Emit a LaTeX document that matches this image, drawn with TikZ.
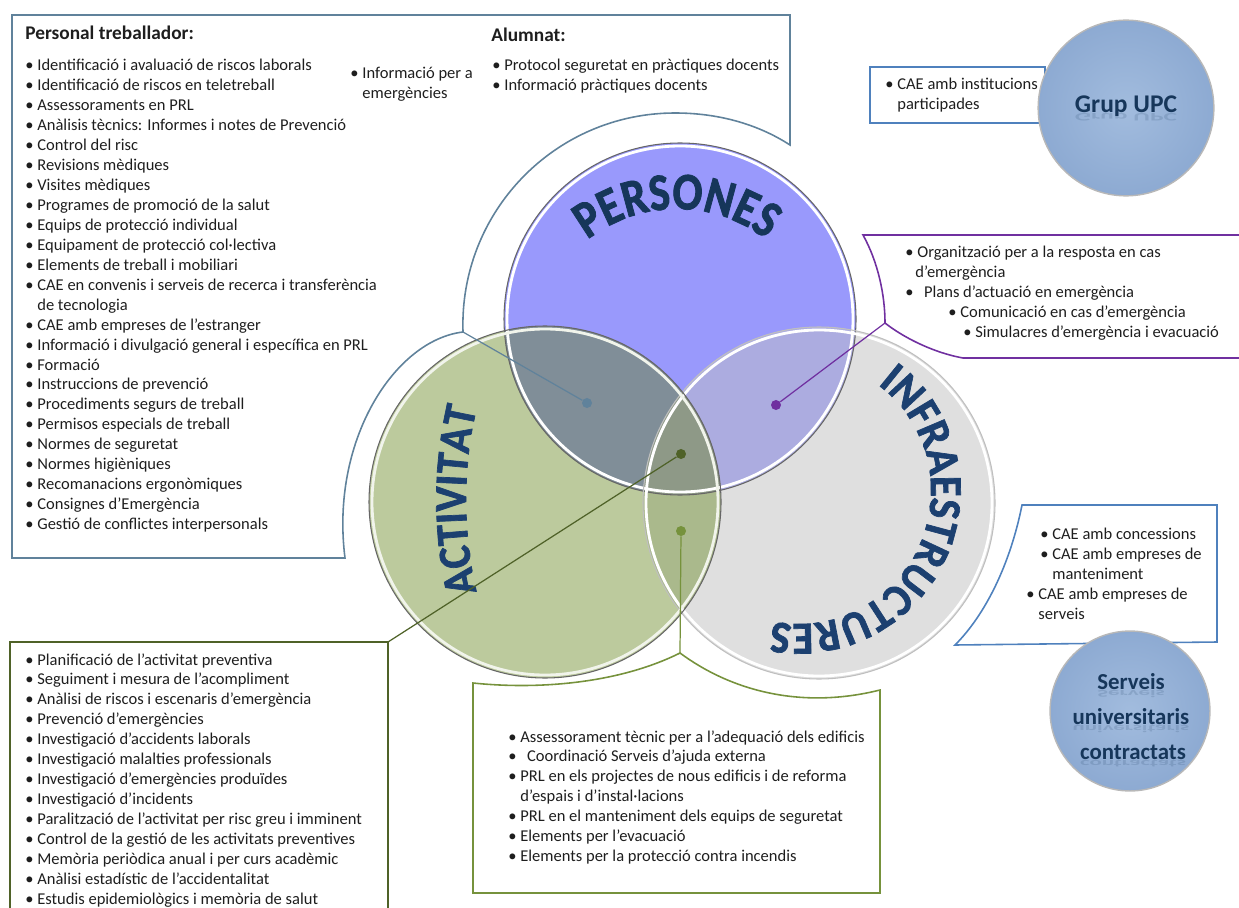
\documentclass[tikz,border=0pt]{standalone}
\usepackage{fontspec}
\setmainfont{Carlito}
\newfontfamily\narrowfam{Carlito}[FakeStretch=0.84, FakeBold=1.5]
\newfontfamily\semifam{Carlito}[FakeStretch=0.93, FakeBold=1.5]
\usetikzlibrary{decorations.text}

\definecolor{textc}{RGB}{30,30,30}
\definecolor{labelc}{RGB}{22,54,90}
\definecolor{labeld}{RGB}{28,64,112}
\definecolor{persc}{RGB}{153,153,252}
\definecolor{infrac}{RGB}{223,223,223}
\definecolor{actc}{RGB}{188,202,157}
\definecolor{paC}{RGB}{128,142,152}
\definecolor{piC}{RGB}{172,172,224}
\definecolor{aiC}{RGB}{170,185,140}
\definecolor{paiC}{RGB}{142,153,135}
\definecolor{slatec}{RGB}{96,130,155}
\definecolor{purplec}{RGB}{112,48,160}
\definecolor{bluec}{RGB}{79,129,189}
\definecolor{dgreenc}{RGB}{79,98,40}
\definecolor{olivec}{RGB}{118,146,60}
\definecolor{bubblein}{RGB}{162,188,222}
\definecolor{bubbleout}{RGB}{141,170,210}

\newlength{\pxu}\setlength{\pxu}{0.569055pt}
\newcommand{\bul}[1][12]{\makebox[#1\pxu][l]{\textbullet}}
\newcommand{\ind}{\hspace*{12\pxu}}
\newcommand{\persfont}{\fontsize{30}{30}\narrowfam\bfseries\color{labelc}}
\newcommand{\labelfont}{\fontsize{26}{26}\semifam\bfseries\color{labeld}}

\tikzstyle{listbox} = [anchor=north west, align=left, inner sep=0pt, font=\fontsize{9.4}{11.35}\selectfont, text=textc]
\tikzstyle{heading} = [anchor=west, inner sep=0pt, font=\fontsize{11}{13}\selectfont\bfseries, text=textc]
\tikzstyle{callout} = [line width=0.9pt]
\tikzstyle{link} = [line width=0.7pt]
\tikzstyle{dot} = [circle, inner sep=0pt, minimum size=5.7pt]
\tikzstyle{ring} = [line width=0.6pt]
\tikzstyle{bubble} = [circle, inner sep=0pt, draw=black!28, line width=0.8pt, inner color=bubblein, outer color=bubbleout]
\tikzstyle{bubbletext} = [anchor=base, inner sep=0pt, text=labelc, font=\fontsize{13}{13}\selectfont\bfseries]
\tikzstyle{mirror} = [anchor=base, inner sep=0pt, text=labelc, yscale=-0.45, transform shape, opacity=0.15]
\tikzset{arclabel/.style={decorate, decoration={text along path, text align=center, text={#1}}}}

\begin{document}
\begin{tikzpicture}[x=0.2mm, y=-0.2mm]
    \useasboundingbox (0,0) rectangle (1239,908);

    % Circles
    \coordinate (cP) at (680,319);
    \coordinate (cA) at (545,502);
    \coordinate (cI) at (819,503);
    \fill [persc] (cP) circle [radius=176];
    \fill [infrac] (cI) circle [radius=176];
    \fill [actc] (cA) circle [radius=176];
    \begin{scope}
        \clip (cP) circle [radius=176];
        \fill [piC] (cI) circle [radius=176];
        \fill [paC] (cA) circle [radius=176];
    \end{scope}
    \begin{scope}
        \clip (cA) circle [radius=176];
        \fill [aiC] (cI) circle [radius=176];
    \end{scope}
    \begin{scope}
        \clip (cP) circle [radius=176];
        \clip (cI) circle [radius=176];
        \fill [paiC] (cA) circle [radius=176];
    \end{scope}
    \draw [ring, white, line width=1.6pt] (cP) circle [radius=173];
    \draw [ring, black!60] (cP) circle [radius=176];
    \draw [ring, white, line width=1.6pt] (cI) circle [radius=173];
    \draw [ring, black!25] (cI) circle [radius=176];
    \draw [ring, white!80!actc, line width=1.6pt] (cA) circle [radius=173];
    \draw [ring, black!60] (cA) circle [radius=176];

    % Labels on the circles
    \path [arclabel={|\persfont|PERSONES}] plot [domain=222:318, samples=49] ({677+145*cos(\x)},{354+145*sin(\x)});
    \path [arclabel={|\labelfont|ACTIVITAT}] plot [domain=162:198, samples=37] ({866+400*cos(\x)},{500+400*sin(\x)});
    \path [arclabel={|\labelfont|INFRAESTRUCTURES}] plot [domain=-64:112, samples=89] ({798+133*cos(\x)},{491+133*sin(\x)});

    % Callouts
    \draw [callout, slatec] (345,558) -- (12,558) -- (12,15) -- (790,15) -- (790,145)
        .. controls (756,123) and (716,113) .. (675,113)
        .. controls (555,113) and (459,212) .. (463,332)
        .. controls (395,340) and (330,440) .. (345,558) -- cycle;
    \coordinate (jPers) at (463,332);
    \draw [callout, purplec] (1239,235) -- (863,235)
        .. controls (878,262) and (885,295) .. (885,323)
        .. controls (900,335) and (930,352) .. (963,358) -- (1239,358);
    \coordinate (jInfra) at (885,323);
    \draw [callout, bluec] (1022,505) -- (1217,505) -- (1217,642) -- (955,645)
        .. controls (985,615) and (1010,565) .. (1022,505) -- cycle;
    \draw [callout, bluec] (870,67) rectangle (1045,123);
    \draw [callout, dgreenc] (10,910) -- (10,642) -- (388,642) -- (388,910);
    \coordinate (jAct) at (388,642);
    \draw [callout, olivec] (680,653) .. controls (620,683) and (540,690) .. (473,683)
        -- (473,893) -- (880,893) -- (880,690)
        .. controls (800,710) and (730,690) .. (680,653) -- cycle;
    \coordinate (jSeg) at (680,653);

    % Dots
    \node (dotPA) [dot, fill=slatec] at (587,403) {};
    \node (dotPI) [dot, fill=purplec] at (776,405) {};
    \node (dotPAI) [dot, fill=dgreenc] at (681,454) {};
    \node (dotAI) [dot, fill=olivec] at (681,531) {};

    % Connectors
    \draw [link, slatec] (jPers) -- (dotPA);
    \draw [link, purplec] (jInfra) -- (dotPI);
    \draw [link, dgreenc] (jAct) -- (dotPAI);
    \draw [link, olivec] (jSeg) -- (dotAI);

    % Bubbles
    \node (grup) [bubble, minimum size=100pt] at (1126,108) {};
    \node (grupText) [bubbletext, font=\fontsize{14.5}{14.5}\selectfont\bfseries] at (1126,113) {Grup UPC};
    \node (grupMirror) [mirror, font=\fontsize{14.5}{14.5}\selectfont\bfseries] at (1126,114) {Grup UPC};
    \node (serveis) [bubble, minimum size=91pt] at (1130,711) {};
    \node (serveisA) [bubbletext] at (1131,689) {Serveis};
    \node (serveisAm) [mirror, font=\fontsize{13}{13}\selectfont\bfseries] at (1131,690) {Serveis};
    \node (serveisB) [bubbletext] at (1131,724) {universitaris};
    \node (serveisBm) [mirror, font=\fontsize{13}{13}\selectfont\bfseries] at (1131,725) {universitaris};
    \node (serveisC) [bubbletext] at (1133,759) {contractats};
    \node (serveisCm) [mirror, font=\fontsize{13}{13}\selectfont\bfseries] at (1133,760) {contractats};

    % Texts
    \node (personal) [heading] at (25,33) {Personal treballador:};
    \node (personalList) [listbox] at (25,59) {\bul Identificació i avaluació de riscos laborals\\
        \bul Identificació de riscos en teletreball\\
        \bul Assessoraments en PRL\\
        \bul Anàlisis tècnics: Informes i notes de Prevenció\\
        \bul Control del risc\\
        \bul Revisions mèdiques\\
        \bul Visites mèdiques\\
        \bul Programes de promoció de la salut\\
        \bul Equips de protecció individual\\
        \bul Equipament de protecció col·lectiva\\
        \bul Elements de treball i mobiliari\\
        \bul CAE en convenis i serveis de recerca i transferència\\
        \ind de tecnologia\\
        \bul CAE amb empreses de l’estranger\\
        \bul Informació i divulgació general i específica en PRL\\
        \bul Formació\\
        \bul Instruccions de prevenció\\
        \bul Procediments segurs de treball\\
        \bul Permisos especials de treball\\
        \bul Normes de seguretat\\
        \bul Normes higièniques\\
        \bul Recomanacions ergonòmiques\\
        \bul Consignes d’Emergència\\
        \bul Gestió de conflictes interpersonals};
    \node (infoEmerg) [listbox] at (350,67) {\bul Informació per a\\\ind emergències};
    \node (alumnat) [heading] at (491,35) {Alumnat:};
    \node (alumnatList) [listbox] at (492,59) {\bul Protocol seguretat en pràctiques docents\\
        \bul Informació pràctiques docents};
    \node (grupList) [listbox] at (885,78) {\bul CAE amb institucions\\\ind participades};
    \node (emergList) [listbox] at (905,246) {\bul Organització per a la resposta en cas\\
        \hspace*{10\pxu}d’emergència\\
        \bul[15] Plans d’actuació en emergència\\
        \hspace*{43\pxu}\bul Comunicació en cas d’emergència\\
        \hspace*{58\pxu}\bul Simulacres d’emergència i evacuació};
    \node (serveisList) [listbox] at (1026,528) {\hspace*{14\pxu}\bul CAE amb concessions\\
        \hspace*{14\pxu}\bul CAE amb empreses de\\
        \hspace*{26\pxu}manteniment\\
        \bul CAE amb empreses de\\
        \ind serveis};
    \node (activitatList) [listbox] at (25,653) {\bul Planificació de l’activitat preventiva\\
        \bul Seguiment i mesura de l’acompliment\\
        \bul Anàlisi de riscos i escenaris d’emergència\\
        \bul Prevenció d’emergències\\
        \bul Investigació d’accidents laborals\\
        \bul Investigació malalties professionals\\
        \bul Investigació d’emergències produïdes\\
        \bul Investigació d’incidents\\
        \bul Paralització de l’activitat per risc greu i imminent\\
        \bul Control de la gestió de les activitats preventives\\
        \bul Memòria periòdica anual i per curs acadèmic\\
        \bul Anàlisi estadístic de l’accidentalitat\\
        \bul Estudis epidemiològics i memòria de salut};
    \node (infraList) [listbox] at (508,730) {\bul Assessorament tècnic per a l’adequació dels edificis\\
        \bul[15] Coordinació Serveis d’ajuda externa\\
        \bul PRL en els projectes de nous edificis i de reforma\\
        \ind d’espais i d’instal·lacions\\
        \bul PRL en el manteniment dels equips de seguretat\\
        \bul Elements per l’evacuació\\
        \bul Elements per la protecció contra incendis};

\end{tikzpicture}
\end{document}
